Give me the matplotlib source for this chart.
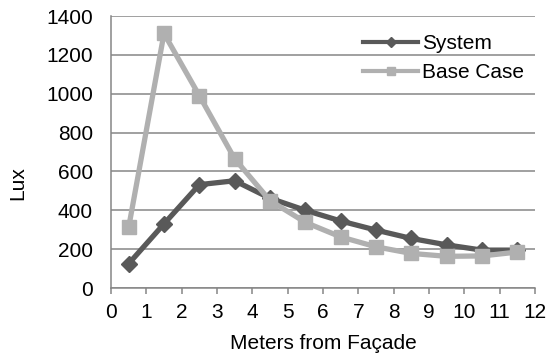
import matplotlib
matplotlib.use("Agg")
import matplotlib.pyplot as plt

x = [0.5, 1.5, 2.5, 3.5, 4.5, 5.5, 6.5, 7.5, 8.5, 9.5, 10.5, 11.5]
system = [125, 330, 532, 552, 462, 400, 345, 298, 255, 222, 195, 195]
base_case = [312, 1310, 990, 665, 450, 338, 263, 212, 178, 163, 165, 185]
xticks = list(range(0, 13))
yticks = list(range(0, 1401, 200))

plt.rcParams['font.family'] = ['Liberation Sans', 'DejaVu Sans']
FS = 15
fig = plt.figure(figsize=(5.5, 3.56), dpi=100)
ax = fig.add_axes([111/550, 1-288/356, (535-111)/550, (288-16)/356])

ax.plot(x, system, color='#595959', lw=3.8, marker='D', ms=8, label='System', zorder=3, clip_on=False)
ax.plot(x, base_case, color='#b0b0b0', lw=3.8, marker='s', ms=9.5, label='Base Case', zorder=3, clip_on=False)

ax.set_xlim(0, 12)
ax.set_ylim(0, 1400)
ax.set_xticks(xticks)
ax.set_yticks(yticks)
ax.yaxis.grid(True, color='#868686', lw=1.1)
ax.set_axisbelow(True)
for s in ['top', 'right']:
    ax.spines[s].set_visible(False)
for s in ['left', 'bottom']:
    ax.spines[s].set_color('#868686')
    ax.spines[s].set_linewidth(1.1)
ax.tick_params(axis='y', length=0, labelsize=FS, pad=13)
ax.tick_params(axis='x', length=4, color='#868686', width=1.1, labelsize=FS, direction='out', pad=7)
fig.text(323/550, 1-349/356, 'Meters from Façade', fontsize=FS, ha='center', va='baseline')
fig.text(18/550, 1-183/356, 'Lux', fontsize=FS, rotation=90, ha='center', va='center')

leg = ax.legend(loc='upper left', bbox_to_anchor=(363/550, 1-34/356), bbox_transform=fig.transFigure,
                frameon=False, fontsize=FS, borderpad=0, borderaxespad=0,
                handlelength=2.64, handletextpad=0.2, markerscale=0.6, labelspacing=0.5)
for h in leg.get_lines():
    h.set_linewidth(3)
fig.savefig('out.png', dpi=100)
